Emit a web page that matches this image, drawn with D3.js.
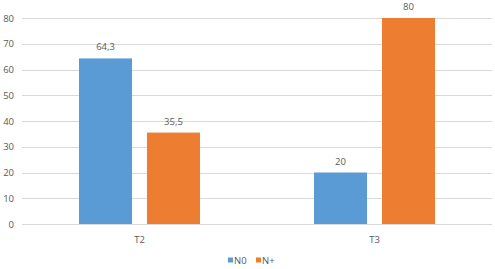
<!DOCTYPE html>
<html>
<head>
<meta charset="utf-8">
<script src="https://cdn.jsdelivr.net/npm/d3@7"></script>
<style>
  body { margin: 0; background: #fff; }
  text { font-family: "Open Sans", "Liberation Sans", sans-serif; fill: #595959; }
</style>
</head>
<body>
<div id="chart"></div>
<script>
// data
const categories = ["T2", "T3"];
const seriesNames = ["N0", "N+"];
const n0Values = [64.3, 20];
const nPlusValues = [35.5, 80];
const yTicks = [0, 10, 20, 30, 40, 50, 60, 70, 80];

const width = 495;
const height = 269;
const margin = { top: 18, right: 3, bottom: 45, left: 22 };

const colors = ["#5B9BD5", "#ED7D31"];

const svg = d3.select("#chart")
    .append("svg")
    .attr("width", width)
    .attr("height", height);

// scales
const x = d3.scaleBand()
    .domain(categories)
    .range([margin.left, width - margin.right]);

const xInner = d3.scaleBand()
    .domain(seriesNames)
    .range([0, 121])
    .paddingInner(0.22);

const y = d3.scaleLinear()
    .domain([0, 80])
    .range([height - margin.bottom, margin.top]);

// gridlines
svg.append("g")
    .selectAll("line")
    .data(yTicks)
    .enter()
    .append("line")
    .attr("x1", margin.left)
    .attr("x2", width - margin.right)
    .attr("y1", d => Math.round(y(d)) + 0.5)
    .attr("y2", d => Math.round(y(d)) + 0.5)
    .attr("stroke", "#d9d9d9")
    .attr("stroke-width", 1);

// y tick labels
svg.append("g")
    .selectAll("text")
    .data(yTicks)
    .enter()
    .append("text")
    .attr("x", 14)
    .attr("y", d => y(d) + 3.5)
    .attr("text-anchor", "end")
    .style("font-size", "9.5px")
    .text(d => d);

// bars
const rows = categories.map((c, i) => ({ cat: c, values: [n0Values[i], nPlusValues[i]] }));

const group = svg.selectAll(".cat")
    .data(rows)
    .enter()
    .append("g")
    .attr("transform", d => "translate(" + (x(d.cat) + x.bandwidth() / 2 - 60.5) + ",0)");

group.selectAll("rect")
    .data(d => d.values.map((v, j) => ({ name: seriesNames[j], value: v, idx: j })))
    .enter()
    .append("rect")
    .attr("x", d => xInner(d.name))
    .attr("y", d => y(d.value))
    .attr("width", xInner.bandwidth())
    .attr("height", d => y(0) - y(d.value))
    .style("fill", d => colors[d.idx]);

// value labels
group.selectAll(".val")
    .data(d => d.values.map((v, j) => ({ name: seriesNames[j], value: v })))
    .enter()
    .append("text")
    .attr("class", "val")
    .attr("x", d => xInner(d.name) + xInner.bandwidth() / 2)
    .attr("y", d => y(d.value) - 8)
    .attr("text-anchor", "middle")
    .style("font-size", "9.5px")
    .text(d => String(d.value).replace(".", ","));

// category labels
svg.append("g")
    .selectAll("text")
    .data(categories)
    .enter()
    .append("text")
    .attr("x", d => x(d) + x.bandwidth() / 2)
    .attr("y", 243)
    .attr("text-anchor", "middle")
    .style("font-size", "9.5px")
    .text(d => d);

// legend
const legend = svg.append("g")
    .attr("transform", "translate(228,260)");

const item = legend.selectAll("g")
    .data(seriesNames)
    .enter()
    .append("g")
    .attr("transform", (d, i) => "translate(" + (i * 28) + ",0)");

item.append("rect")
    .attr("x", 0)
    .attr("y", -2.5)
    .attr("width", 5)
    .attr("height", 5)
    .style("fill", (d, i) => colors[i]);

item.append("text")
    .attr("x", 6)
    .attr("y", 3.5)
    .style("font-size", "9.5px")
    .text(d => d);
</script>
</body>
</html>
